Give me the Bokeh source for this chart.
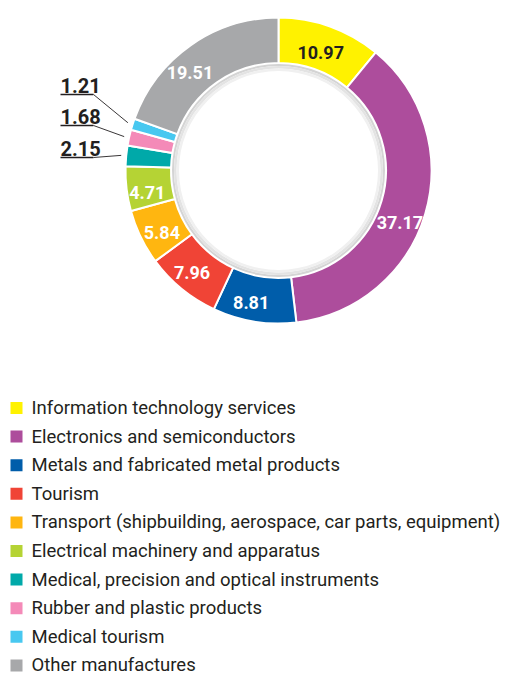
import math
from bokeh.plotting import figure
from bokeh.models import Range1d, ColumnDataSource
from bokeh.core.properties import value
from bokeh.embed import file_html
from bokeh.resources import INLINE

# ---------------- data ----------------
categories = [
    "Information technology services",
    "Electronics and semiconductors",
    "Metals and fabricated metal products",
    "Tourism",
    "Transport (shipbuilding, aerospace, car parts, equipment)",
    "Electrical machinery and apparatus",
    "Medical, precision and optical instruments",
    "Rubber and plastic products",
    "Medical tourism",
    "Other manufactures",
]
shares = [10.97, 37.17, 8.81, 7.96, 5.84, 4.71, 2.15, 1.68, 1.21, 19.51]
colors = ["#FFF200", "#AD4D9C", "#005DAA", "#F04436", "#FFB610",
          "#B5D334", "#00A9A9", "#F48AB8", "#48C8F0", "#A7A8AA"]

# ---------------- layout ----------------
W, H = 505, 677
CX, CY = 278, 170           # donut centre (page pixels)
R_OUT, R_IN = 153, 107.5
# where along each slice its inside label sits (None = label outside)
label_frac = [0.5, 0.55, 0.58, 0.53, 0.40, 0.35, None, None, None, 0.40]
label_rad = [125, 132, 135, 134, 132, 133, None, None, None, 132]
label_color = ["#231F20"] + ["white"] * 9
# outside labels: underline row y (page px)
out_rows = {8: 94, 7: 125, 6: 157}
FONT = "Roboto"
TXT = "#231F20"

p = figure(width=W, height=H, output_backend="svg", toolbar_location=None,
           x_range=Range1d(0, W), y_range=Range1d(-H, 0),
           min_border=0)
p.axis.visible = False
p.grid.visible = False
p.outline_line_color = None
p.background_fill_color = "white"
p.border_fill_color = "white"

total = sum(shares)
cum = 0.0
starts, ends = [], []
for v in shares:
    starts.append(math.pi / 2 - 2 * math.pi * cum / total)
    ends.append(math.pi / 2 - 2 * math.pi * (cum + v) / total)
    cum += v

src = ColumnDataSource(dict(start=starts, end=ends, color=colors))
p.annular_wedge(x=CX, y=-CY, inner_radius=R_IN, outer_radius=R_OUT,
                start_angle="start", end_angle="end", direction="clock",
                fill_color="color", line_color="white", line_width=2,
                source=src)

# inner shadow ring
for r0, r1, c in [(104.5, 106.5, "#D4D4D4"), (102, 104.5, "#E3E3E3"), (99.5, 102, "#F0F0F0")]:
    p.annulus(x=CX, y=-CY, inner_radius=r0, outer_radius=r1,
              fill_color=c, line_color=None)

# inside labels
lx, ly, lt, lc = [], [], [], []
for i, v in enumerate(shares):
    if label_frac[i] is None:
        continue
    a = starts[i] + (ends[i] - starts[i]) * label_frac[i]
    lx.append(CX + label_rad[i] * math.cos(a))
    ly.append(-CY + label_rad[i] * math.sin(a))
    lt.append(f"{v:.2f}")
    lc.append(label_color[i])
p.text(x=lx, y=ly, text=lt, text_color=lc, text_font=value(FONT),
       text_font_size="18px", text_font_style="bold",
       text_align="center", text_baseline="middle")

# outside labels with leader lines
for i, row in out_rows.items():
    a = (starts[i] + ends[i]) / 2
    ex = CX + 158 * math.cos(a)
    ey = -CY + 158 * math.sin(a)
    p.line(x=[60, 93], y=[-row, -row], line_color=TXT, line_width=1.6)
    p.line(x=[93, ex], y=[-row, ey], line_color=TXT, line_width=0.9)
    p.text(x=[60], y=[-row + 2], text=[f"{shares[i]:.2f}"], text_color=TXT,
           text_font=value(FONT), text_font_size="20px", text_font_style="bold",
           text_align="left", text_baseline="bottom")

# legend
ys = [-(407.5 + k * 28.6) for k in range(len(categories))]
p.rect(x=[16] * len(categories), y=ys, width=12, height=12,
       fill_color=colors, line_color=None)
p.text(x=[31] * len(categories), y=ys, text=categories, text_color=TXT,
       text_font=value(FONT), text_font_size="18.5px",
       text_align="left", text_baseline="middle")

open("out.html", "w").write(file_html(p, INLINE))
